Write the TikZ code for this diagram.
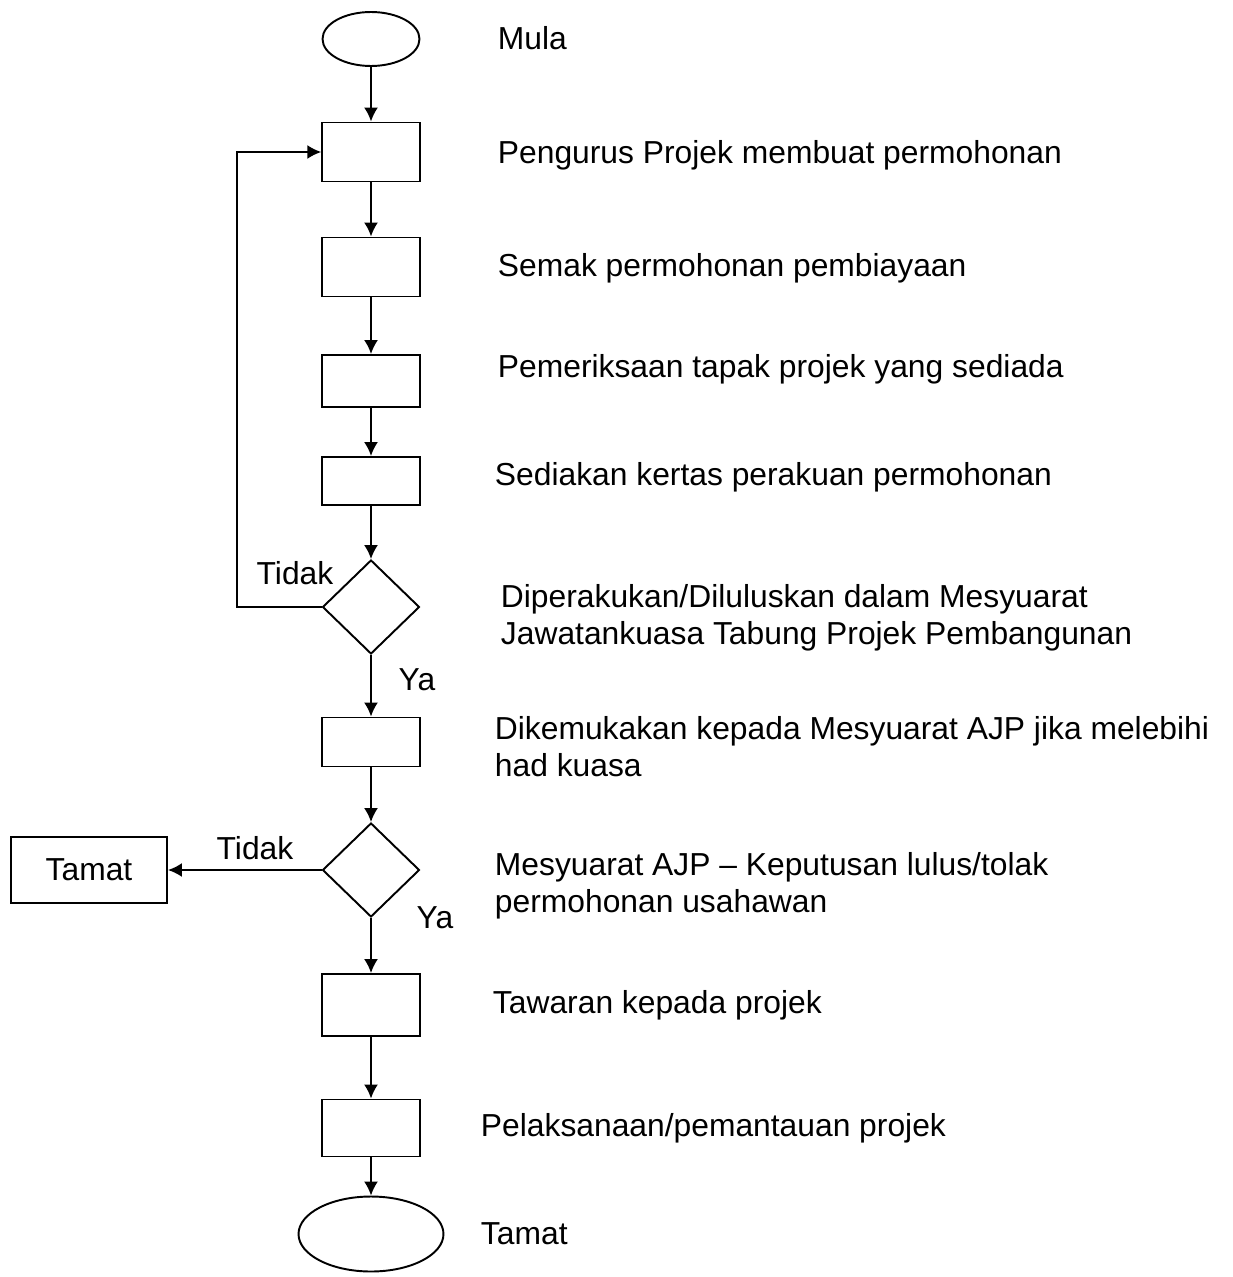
\documentclass[tikz,border=0pt]{standalone}
\usepackage{fontspec}
\setmainfont{Liberation Sans}
\usepackage{tikz}
\usetikzlibrary{arrows.meta,shapes.geometric,positioning}
\tikzset{
  BaseNode/.style = {align=center, inner sep=0pt, line width=1.1pt},
  EndNode/.style = {BaseNode, ellipse, draw=black, minimum width=1.94cm, minimum height=1.08cm},
  StepNode/.style = {BaseNode, rectangle, draw=black, minimum width=1.95cm, minimum height=1.1cm},
  TamatNode/.style = {BaseNode, rectangle, draw=black, minimum width=3.12cm, minimum height=1.32cm},
  CheckNode/.style = {BaseNode, diamond, draw=black, minimum width=1.94cm, minimum height=1.88cm},
  InfoNode/.style = {anchor=west, align=left, inner sep=0pt},
  AnsNode/.style = {inner sep=0pt},
}

\begin{document}
\begin{tikzpicture}[x=0.02cm, y=-0.02cm, ->, >={Latex[length=0.28cm,width=0.28cm]}, line width=1.1pt,
    every node/.style={font=\fontsize{18.1}{21}\selectfont}]
    \useasboundingbox (0,0) rectangle (1232,1277);
    % flow boxes
    \node [EndNode] (mula) at (371,39) {};
    \node [StepNode, minimum height=1.18cm] (p1) at (371,152) {};
    \node [StepNode, minimum height=1.18cm] (p2) at (371,267) {};
    \node [StepNode, minimum height=1.04cm] (p3) at (371,381) {};
    \node [StepNode, minimum height=0.96cm] (p4) at (371,481) {};
    \node [CheckNode] (d1) at (371,607) {};
    \node [StepNode, minimum height=0.98cm] (p5) at (371,742) {};
    \node [CheckNode] (d2) at (371,870) {};
    \node [TamatNode] (tamatkiri) at (89,870) {Tamat};
    \node [StepNode, minimum height=1.24cm] (p6) at (371,1005) {};
    \node [StepNode, minimum height=1.14cm] (p7) at (371,1128) {};
    \node [EndNode, minimum width=2.9cm, minimum height=1.5cm] (tamat) at (371,1234) {};
    % texts
    \node [InfoNode] (tmula) at (497,38) {Mula};
    \node [InfoNode] (t1) at (497,155) {Pengurus Projek membuat permohonan};
    \node [InfoNode] (t2) at (497,268) {Semak permohonan pembiayaan};
    \node [InfoNode] (t3) at (497,369) {Pemeriksaan tapak projek yang sediada};
    \node [InfoNode] (t4) at (494,477) {Sediakan kertas perakuan permohonan};
    \node [InfoNode] (td1) at (500,618) {Diperakukan/Diluluskan dalam Mesyuarat\\Jawatankuasa Tabung Projek Pembangunan};
    \node [InfoNode] (t5) at (494,747) {Dikemukakan kepada Mesyuarat AJP jika melebihi\\had kuasa};
    \node [InfoNode] (td2) at (494,886) {Mesyuarat AJP -- Keputusan lulus/tolak\\permohonan usahawan};
    \node [InfoNode] (t6) at (492,1005) {Tawaran kepada projek};
    \node [InfoNode] (t7) at (480,1128) {Pelaksanaan/pemantauan projek};
    \node [InfoNode] (ttamat) at (480,1234) {Tamat};
    % answers
    \node [AnsNode] (tidak1) at (295,573) {Tidak};
    \node [AnsNode] (ya1) at (417,680) {Ya};
    \node [AnsNode] (tidak2) at (255,848) {Tidak};
    \node [AnsNode] (ya2) at (435,918) {Ya};
    % connectors
    \coordinate (loop) at (237,400);
    \draw (mula) -- (p1);
    \draw (p1) -- (p2);
    \draw (p2) -- (p3);
    \draw (p3) -- (p4);
    \draw (p4) -- (d1);
    \draw (d1) -- (p5);
    \draw (d1.west) -- (loop |- d1.west) -- (loop |- p1.west) -- (p1.west);
    \draw (p5) -- (d2);
    \draw (d2) -- (tamatkiri);
    \draw (d2) -- (p6);
    \draw (p6) -- (p7);
    \draw (p7) -- (tamat);
\end{tikzpicture}
\end{document}
